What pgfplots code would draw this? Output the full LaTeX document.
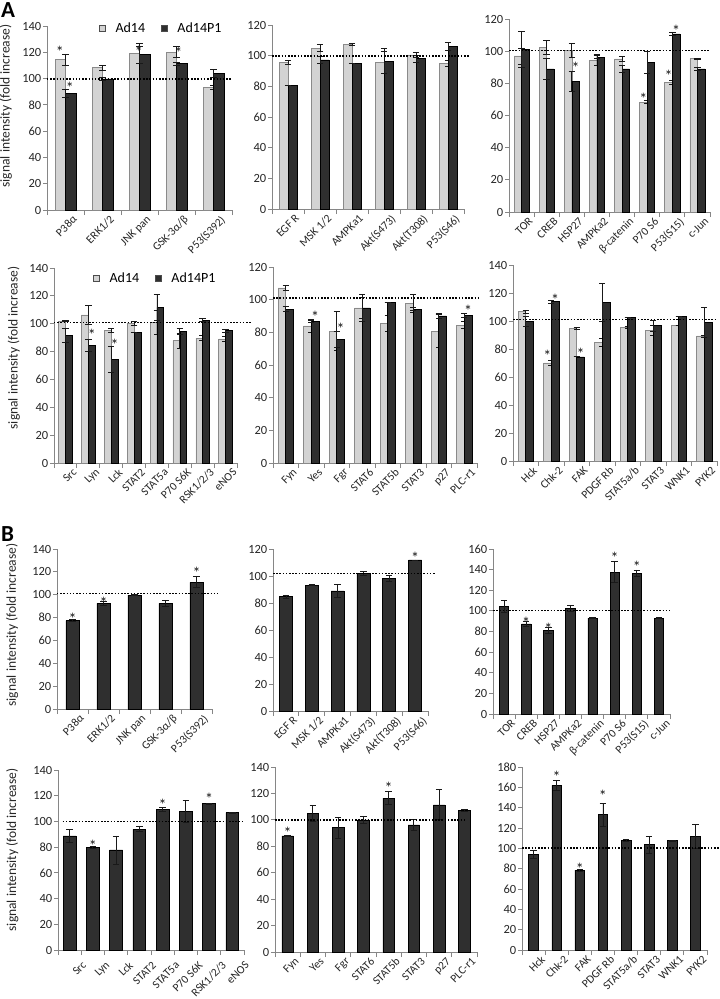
\documentclass[border=0pt]{standalone}
\usepackage{fontspec}
\setmainfont{Carlito}
\usepackage{pgfplots}
\pgfplotsset{compat=1.18}
\definecolor{axisgray}{HTML}{868686}
\definecolor{lightbar}{HTML}{D3D3D3}
\definecolor{lightedge}{HTML}{8A8A8A}
\definecolor{darkbar}{HTML}{2F2F2F}
\pgfplotsset{
  panel/.style={
    scale only axis, anchor=south west, clip=false,
    axis x line*=bottom, axis y line*=left,
    axis line style={draw=axisgray, line width=0.8pt},
    enlargelimits=false, ymin=0, xmin=-0.5,
    tick align=outside,
    major tick length=4pt, minor tick length=5pt,
    major x tick style={draw=none},
    minor x tick style={draw=axisgray, line width=0.8pt},
    major y tick style={draw=axisgray, line width=0.8pt},
    /pgf/number format/assume math mode=true,
    yticklabel style={font=\fontsize{12.5}{13}\selectfont, text=black!85, inner sep=1.5pt},
    every x tick label/.style={xshift=6.5pt, yshift=1pt, font=\fontsize{11.5}{12}\selectfont, text=black!85, rotate=45, anchor=north east, inner sep=1pt},
    ylabel style={font=\fontsize{13.5}{14}\selectfont, text=black!85, anchor=center},
  },
  eb/.style={/pgfplots/error bars/y dir=both, /pgfplots/error bars/y explicit,
    /pgfplots/error bars/error mark=-,
    /pgfplots/error bars/error bar style={black!90, line width=0.8pt},
    /pgfplots/error bars/error mark options={rotate=90, black!90, mark size=3.2pt, line width=0.8pt}},
  lbar/.style={ybar, fill=lightbar, draw=lightedge, line width=0.6pt, bar width=#1, bar shift=-#1/2, eb},
  dbar/.style={ybar, fill=darkbar, draw=black, line width=0.6pt, bar width=#1, bar shift=#1/2, eb},
  sbar/.style={ybar, fill=darkbar, draw=black, line width=0.6pt, bar width=#1, bar shift=0, eb},
  refline/.style={black, line width=1.5pt, dash pattern=on 1.5pt off 1.7pt, forget plot},
  ast/.style={draw=none, mark=none, forget plot, nodes near coords={*},
    every node near coord/.style={anchor=center, inner sep=0pt, yshift=-2.5pt, font=\fontsize{16}{16}\selectfont, text=black!90}},
  sqleg/.style={legend image code/.code={\draw[fill=#1, draw=black!70, line width=0.6pt] (0pt,-2.8pt) rectangle (5.6pt,2.8pt); \path[draw=none, fill=none] (0pt,0pt) -- (15pt,0pt);}},
  legpanel/.style={legend style={at={#1}, anchor=west, draw=none, fill=none, legend columns=2,
    font=\fontsize{14}{15}\selectfont, nodes={inner sep=1pt},
    /tikz/every even column/.append style={column sep=15pt}}},
}
\begin{document}
\begin{tikzpicture}
\useasboundingbox (0,0) rectangle (720pt,-999pt);
\node[anchor=base west, inner sep=0pt, font=\fontsize{23}{23}\selectfont\bfseries] at (1pt,-17pt) {A};
\node[anchor=base west, inner sep=0pt, font=\fontsize{23}{23}\selectfont\bfseries] at (1pt,-541pt) {B};

% ---------- Panel 1 ----------
\begin{axis}[panel, at={(47pt,-210pt)}, width=185pt, height=184pt,
  xmax=4.5, ymax=140, ytick={0,20,...,140},
  xtick={0,...,4}, minor xtick={-0.5,0.5,...,4.5},
  xticklabels={P38α, ERK1/2, JNK pan, GSK-3α/β, P53(S392)},
  ylabel={signal intensity (fold increase)},
  ylabel style={at={(axis description cs:-0.222,0.565)}},
  legpanel={(0.265,0.989)}]
\addlegendimage{sqleg=lightbar}
\addlegendentry{Ad14}
\addlegendimage{sqleg=darkbar}
\addlegendentry{Ad14P1}
\addplot[lbar=0.28] coordinates {(0,114.3)+-(0,4.4) (1,108.2)+-(0,2) (2,119.4)+-(0,7.6) (3,120.2)+-(0,4.3) (4,93.5)+-(0,1.5)};
\addplot[dbar=0.28] coordinates {(0,88.7)+-(0,3) (1,99.8)+-(0,1) (2,118.1)+-(0,6.7) (3,111.3)+-(0,1) (4,103.9)+-(0,2.8)};
\addplot[refline] coordinates {(-0.5,99.8) (4.5,99.8)};
\addplot[ast] coordinates {(-0.15,122.5) (0.12,94.5) (1.98,122) (3.05,121.4)};
\end{axis}

% ---------- Panel 2 ----------
\begin{axis}[panel, at={(272pt,-209pt)}, width=192pt, height=184pt,
  xmax=5.5, ymax=120, ytick={0,20,...,120},
  xtick={0,...,5}, minor xtick={-0.5,0.5,...,5.5},
  xticklabels={EGF R, MSK 1/2, AMPKa1, Akt(S473), Akt(T308), P53(S46)}]
\addplot[lbar=0.28] coordinates {(0,95.7)+-(0,1.3) (1,104.8)+-(0,2.3) (2,107.4)+-(0,0.5) (3,95.5)+-(0,7) (4,100.5)+-(0,1.5) (5,95)+-(0,2)};
\addplot[dbar=0.28] coordinates {(0,80.5)+-(0,0) (1,97.2)+-(0,2.5) (2,95.1)+-(0,0) (3,96.5)+-(0,8.3) (4,98)+-(0,2.5) (5,106)+-(0,2.5)};
\addplot[refline] coordinates {(-0.5,99.8) (5.7,99.8)};
\end{axis}

% ---------- Panel 3 ----------
\begin{axis}[panel, at={(509pt,-212pt)}, width=201pt, height=193pt,
  xmax=7.5, ymax=120, ytick={0,20,...,120},
  xtick={0,...,7}, minor xtick={-0.5,0.5,...,7.5},
  xticklabels={TOR, CREB, HSP27, AMPKa2, β-catenin, P70 S6, P53(S15), c-Jun}]
\addplot[lbar=0.3] coordinates {(0,97)+-(0,5) (1,102.4)+-(0,4.5) (2,100.3)+-(0,4.3) (3,94.5)+-(0,3.3) (4,95.2)+-(0,1.5) (5,68.3)+-(0,1) (6,80.8)+-(0,1.3) (7,95.3)+-(0,0.3)};
\addplot[dbar=0.3] coordinates {(0,101)+-(0,11) (1,89)+-(0,6.8) (2,81)+-(0,6.2) (3,96.2)+-(0,1) (4,89)+-(0,2) (5,93.1)+-(0,6.7) (6,110.8)+-(0,1) (7,89)+-(0,1.2)};
\addplot[refline] coordinates {(-0.5,100.3) (7.5,100.3)};
\addplot[ast] coordinates {(2.15,91) (4.85,72) (5.85,86) (6.15,114.5)};
\end{axis}

% ---------- Panel 4 ----------
\begin{axis}[panel, at={(54pt,-463pt)}, width=183pt, height=195pt,
  xmax=7.5, ymax=140, ytick={0,20,...,140},
  xtick={0,...,7}, minor xtick={-0.5,0.5,...,7.5},
  xticklabels={Src, Lyn, Lck, STAT2, STAT5a, P70 S6K, RSK1/2/3, eNOS},
  ylabel={signal intensity (fold increase)},
  ylabel style={at={(axis description cs:-0.219,0.59)}},
  legpanel={(0.197,0.947)}]
\addlegendimage{sqleg=lightbar}
\addlegendentry{Ad14}
\addlegendimage{sqleg=darkbar}
\addlegendentry{Ad14P1}
\addplot[lbar=0.3] coordinates {(0,102)+-(0,0.5) (1,106.4)+-(0,7) (2,95.1)+-(0,1.5) (3,100.4)+-(0,1.5) (4,101)+-(0,8.6) (5,87.9)+-(0,5.4) (6,89.6)+-(0,1.8) (7,89.1)+-(0,1.5)};
\addplot[dbar=0.3] coordinates {(0,91.5)+-(0,5) (1,84.3)+-(0,4.2) (2,74.4)+-(0,9.5) (3,93.7)+-(0,0) (4,111.7)+-(0,9) (5,94.4)+-(0,2) (6,102.5)+-(0,1) (7,95.1)+-(0,1)};
\addplot[refline] coordinates {(-0.5,100.9) (8.1,100.9)};
\addplot[ast] coordinates {(1.15,94) (2.15,86.7)};
\end{axis}

% ---------- Panel 5 ----------
\begin{axis}[panel, at={(273pt,-463pt)}, width=204pt, height=196pt,
  xmax=7.5, ymax=120, ytick={0,20,...,120},
  xtick={0,...,7}, minor xtick={-0.5,0.5,...,7.5},
  xticklabels={Fyn, Yes, Fgr, STAT6, STAT5b, STAT3, p27, PLC-r1}]
\addplot[lbar=0.3] coordinates {(0,107.2)+-(0,1.5) (1,84)+-(0,4) (2,80.7)+-(0,12) (3,95)+-(0,6.3) (4,85.4)+-(0,4.8) (5,97.6)+-(0,5.5) (6,80.8)+-(0,10) (7,84.4)+-(0,2)};
\addplot[dbar=0.3] coordinates {(0,94.2)+-(0,1.5) (1,86.8)+-(0,0.5) (2,75.7)+-(0,4.8) (3,95)+-(0,8) (4,98.2)+-(0,0) (5,94.2)+-(0,1) (6,90.1)+-(0,1.7) (7,90.5)+-(0,1.2)};
\addplot[refline] coordinates {(-0.5,101) (7.6,101)};
\addplot[ast] coordinates {(1.15,91) (2.15,83.4) (7.15,94.6)};
\end{axis}

% ---------- Panel 6 ----------
\begin{axis}[panel, at={(513pt,-461pt)}, width=204pt, height=196pt,
  xmax=7.5, ymax=140, ytick={0,20,...,140},
  xtick={0,...,7}, minor xtick={-0.5,0.5,...,7.5},
  xticklabels={Hck, Chk-2, FAK, PDGF Rb, STAT5a/b, STAT3, WNK1, PYK2}]
\addplot[lbar=0.3] coordinates {(0,106.6)+-(0,1) (1,70.1)+-(0,2) (2,94.7)+-(0,0.5) (3,84.7)+-(0,3) (4,95.4)+-(0,0.5) (5,93.5)+-(0,3.5) (6,96.6)+-(0,0) (7,89.4)+-(0,0)};
\addplot[dbar=0.3] coordinates {(0,99.9)+-(0,3.5) (1,113.8)+-(0,1) (2,74.4)+-(0,0) (3,113.3)+-(0,13.6) (4,102.5)+-(0,0) (5,96.6)+-(0,4) (6,103.5)+-(0,0) (7,99)+-(0,11)};
\addplot[refline] coordinates {(-0.5,101) (7.5,101)};
\addplot[ast] coordinates {(0.85,77) (1.15,117) (2.15,78.3)};
\end{axis}

% ---------- Panel 7 ----------
\begin{axis}[panel, at={(57pt,-709pt)}, width=155pt, height=160pt,
  xmax=4.5, ymax=140, ytick={0,20,...,140},
  xtick={0,...,4}, minor xtick={-0.5,0.5,...,4.5},
  xticklabels={P38α, ERK1/2, JNK pan, GSK-3α/β, P53(S392)},
  ylabel={signal intensity (fold increase)},
  ylabel style={at={(axis description cs:-0.29,0.525)}}]
\addplot[sbar=0.42] coordinates {(0,77.3)+-(0,1) (1,92.4)+-(0,1.5) (2,99.7)+-(0,0.5) (3,92.4)+-(0,2.5) (4,110.8)+-(0,4.8)};
\addplot[refline] coordinates {(-0.5,101.2) (4.7,101.2)};
\addplot[ast] coordinates {(0,81) (1,95.4) (4,121.6)};
\end{axis}

% ---------- Panel 8 ----------
\begin{axis}[panel, at={(273pt,-711pt)}, width=155pt, height=162pt,
  xmax=5.5, ymax=120, ytick={0,20,...,120},
  xtick={0,...,5}, minor xtick={-0.5,0.5,...,5.5},
  xticklabels={EGF R, MSK 1/2, AMPKa1, Akt(S473), Akt(T308), P53(S46)}]
\addplot[sbar=0.5] coordinates {(0,84.7)+-(0,1.3) (1,93.3)+-(0,0.5) (2,88.9)+-(0,5) (3,101.7)+-(0,1.5) (4,98.3)+-(0,2.3) (5,111.9)+-(0,0)};
\addplot[refline] coordinates {(-0.5,101.7) (5.8,101.7)};
\addplot[ast] coordinates {(5,115.6)};
\end{axis}

% ---------- Panel 9 ----------
\begin{axis}[panel, at={(493pt,-714pt)}, width=177pt, height=165pt,
  xmax=7.5, ymax=160, ytick={0,20,...,160},
  xtick={0,...,7}, minor xtick={-0.5,0.5,...,7.5},
  xticklabels={TOR, CREB, HSP27, AMPKa2, β-catenin, P70 S6, P53(S15), c-Jun}]
\addplot[sbar=0.42] coordinates {(0,104.4)+-(0,5.5) (1,87.3)+-(0,2.3) (2,80.8)+-(0,3) (3,102.1)+-(0,3) (4,93.1)+-(0,0.3) (5,137.7)+-(0,10.5) (6,136.7)+-(0,3) (7,93.1)+-(0,0.3)};
\addplot[refline] coordinates {(-0.5,100.5) (7.5,100.5)};
\addplot[ast] coordinates {(1,90.5) (2,85) (5,153.5) (6,145.4)};
\end{axis}

% ---------- Panel 10 ----------
\begin{axis}[panel, at={(58pt,-950pt)}, width=186pt, height=180pt,
  xmax=7.5, ymax=140, ytick={0,20,...,140},
  xtick={0,...,7}, minor xtick={-0.5,0.5,...,7.5},
  every x tick label/.style={xshift=12pt, yshift=-5pt, font=\fontsize{11.5}{12}\selectfont, text=black!85, rotate=45, anchor=north east, inner sep=1pt},
  xticklabels={Src, Lyn, Lck, STAT2, STAT5a, P70 S6K, RSK1/2/3, eNOS},
  ylabel={signal intensity (fold increase)},
  ylabel style={at={(axis description cs:-0.245,0.556)}}]
\addplot[sbar=0.55] coordinates {(0,88.7)+-(0,4.9) (1,79.9)+-(0,1) (2,77.8)+-(0,10.9) (3,93.9)+-(0,2) (4,109.4)+-(0,1.5) (5,107.6)+-(0,8.4) (6,113.8)+-(0,0.5) (7,106.8)+-(0,0.3)};
\addplot[refline] coordinates {(-0.3,99.8) (7.5,99.8)};
\addplot[ast] coordinates {(1,83) (4,114.6) (6,119.3)};
\end{axis}

% ---------- Panel 11 ----------
\begin{axis}[panel, at={(275pt,-952pt)}, width=202pt, height=185pt,
  xmax=7.5, ymax=140, ytick={0,20,...,140},
  xtick={0,...,7}, minor xtick={-0.5,0.5,...,7.5},
  xticklabels={Fyn, Yes, Fgr, STAT6, STAT5b, STAT3, p27, PLC-r1}]
\addplot[sbar=0.45] coordinates {(0,87.8)+-(0,0.3) (1,105.1)+-(0,6) (2,94.2)+-(0,8) (3,100)+-(0,3) (4,116.5)+-(0,4.7) (5,96.2)+-(0,4) (6,111.4)+-(0,11.4) (7,107.1)+-(0,1)};
\addplot[refline] coordinates {(-0.5,100) (7.0,100)};
\addplot[ast] coordinates {(0,91.9) (4,125.8)};
\end{axis}

% ---------- Panel 12 ----------
\begin{axis}[panel, at={(522pt,-950pt)}, width=185pt, height=183pt,
  xmax=7.5, ymax=180, ytick={0,20,...,180},
  xtick={0,...,7}, minor xtick={-0.5,0.5,...,7.5},
  xticklabels={Hck, Chk-2, FAK, PDGF Rb, STAT5a/b, STAT3, WNK1, PYK2}]
\addplot[sbar=0.42] coordinates {(0,94.3)+-(0,4) (1,162)+-(0,5) (2,78.5)+-(0,1) (3,133)+-(0,11.5) (4,107.7)+-(0,1) (5,103.5)+-(0,8.2) (6,107.7)+-(0,0.5) (7,111.7)+-(0,11.5)};
\addplot[refline] coordinates {(-0.5,100.2) (8.0,100.2)};
\addplot[ast] coordinates {(1,172.5) (2,82) (3,154.4)};
\end{axis}
\end{tikzpicture}
\end{document}
